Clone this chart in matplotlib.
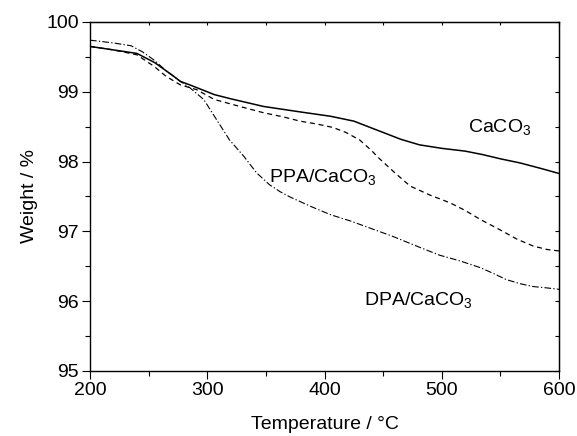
import matplotlib
matplotlib.use("Agg")
import matplotlib.pyplot as plt
from matplotlib.ticker import MultipleLocator

plt.rcParams['font.family'] = ['Liberation Sans', 'DejaVu Sans']
plt.rcParams['mathtext.default'] = 'regular'

# CaCO3 (solid)
t_caco3 = [200, 220, 240, 255, 270, 277, 285, 300, 306, 320, 348, 360, 380, 405, 425, 445, 465, 481, 500, 520, 535, 550, 567, 585, 600]
w_caco3 = [99.65, 99.6, 99.55, 99.42, 99.24, 99.15, 99.1, 99.0, 98.96, 98.9, 98.79, 98.76, 98.71, 98.65, 98.58, 98.45, 98.32, 98.24, 98.19, 98.15, 98.1, 98.04, 97.98, 97.9, 97.83]

# PPA/CaCO3 (dashed)
t_ppa = [200, 220, 240, 255, 265, 277, 291, 306, 330, 348, 365, 379, 393, 407, 418, 430, 440, 447, 460, 473, 490, 507, 520, 533, 550, 564, 578, 590, 600]
w_ppa = [99.65, 99.6, 99.53, 99.36, 99.22, 99.1, 99.03, 98.89, 98.78, 98.7, 98.64, 98.58, 98.54, 98.49, 98.42, 98.31, 98.16, 98.04, 97.84, 97.65, 97.52, 97.41, 97.3, 97.17, 97.02, 96.89, 96.79, 96.74, 96.72]

# DPA/CaCO3 (dash-dot)
t_dpa = [200, 220, 235, 245, 255, 265, 277, 285, 297, 308, 319, 331, 342, 353, 362, 371, 388, 405, 422, 440, 458, 480, 498, 515, 533, 545, 555, 567, 578, 590, 600]
w_dpa = [99.74, 99.7, 99.66, 99.57, 99.45, 99.3, 99.15, 99.06, 98.89, 98.6, 98.31, 98.08, 97.84, 97.67, 97.57, 97.49, 97.36, 97.24, 97.15, 97.04, 96.93, 96.78, 96.66, 96.58, 96.48, 96.39, 96.31, 96.25, 96.21, 96.19, 96.17]

labels = ['CaCO$_3$', 'PPA/CaCO$_3$', 'DPA/CaCO$_3$']
label_pos = [(522, 98.49), (353, 97.78), (434, 96.02)]

fig = plt.figure(figsize=(5.77, 4.36), dpi=100)
ax = fig.add_axes([90/577, 1-371/436, 469/577, 349/436])

ax.plot(t_caco3, w_caco3, color='black', lw=1.1, linestyle='-')
ax.plot(t_ppa, w_ppa, color='black', lw=0.9, linestyle=(0, (4, 3)))
ax.plot(t_dpa, w_dpa, color='black', lw=0.8, linestyle=(0, (6, 2, 1.2, 2)))

for lab, (x, y) in zip(labels, label_pos):
    ax.text(x, y, lab, fontsize=14, va='center', ha='left')

ax.set_xlim(200, 600)
ax.set_ylim(95, 100)
ax.xaxis.set_major_locator(MultipleLocator(100))
ax.xaxis.set_minor_locator(MultipleLocator(50))
ax.yaxis.set_major_locator(MultipleLocator(1))
ax.yaxis.set_minor_locator(MultipleLocator(0.5))
ax.tick_params(axis='both', which='major', direction='out', length=6, width=0.8, labelsize=14, pad=2)
ax.tick_params(axis='both', which='minor', direction='out', length=3.5, width=0.8)
ax.tick_params(which='both', top=False, right=False)

axr = ax.secondary_yaxis('right')
axr.yaxis.set_major_locator(MultipleLocator(0.5))
axr.tick_params(direction='in', length=3, width=0.8, labelright=False)
axt = ax.secondary_xaxis('top')
axt.xaxis.set_major_locator(MultipleLocator(50))
axt.tick_params(direction='in', length=2, width=0.8, labeltop=False)

for s in ax.spines.values():
    s.set_linewidth(1.0)

ax.set_xlabel('Temperature / °C', fontsize=14, labelpad=12)
ax.set_ylabel('Weight / %', fontsize=14, labelpad=6)

fig.savefig('out.png', dpi=100)
